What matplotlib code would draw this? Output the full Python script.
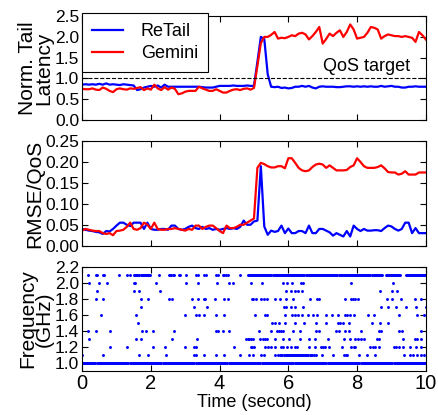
import numpy as np
import matplotlib
matplotlib.use('Agg')
import matplotlib.pyplot as plt

plt.rcParams['font.family'] = ['Liberation Sans', 'DejaVu Sans']
plt.rcParams['font.size'] = 12

time = np.arange(0, 10.001, 0.1)

# normalized tail latency
lat_retail = [0.85, 0.86, 0.85, 0.86, 0.85, 0.87, 0.85, 0.88, 0.85, 0.86,
              0.85, 0.84, 0.86, 0.85, 0.84, 0.83, 0.72, 0.74, 0.78, 0.80,
              0.82, 0.80, 0.83, 0.78, 0.85, 0.80, 0.80, 0.80, 0.80, 0.80,
              0.80, 0.80, 0.80, 0.80, 0.80, 0.79, 0.78, 0.78, 0.78, 0.80,
              0.82, 0.82, 0.82, 0.82, 0.83, 0.82, 0.82, 0.82, 0.83, 0.82,
              0.82, 1.40, 2.00, 1.95, 1.10, 0.80, 0.79, 0.80, 0.77, 0.78,
              0.76, 0.77, 0.80, 0.80, 0.82, 0.80, 0.82, 0.78, 0.76, 0.80,
              0.81, 0.80, 0.80, 0.80, 0.79, 0.79, 0.80, 0.81, 0.81, 0.80,
              0.81, 0.80, 0.81, 0.80, 0.81, 0.80, 0.80, 0.82, 0.80, 0.81,
              0.82, 0.80, 0.80, 0.78, 0.78, 0.80, 0.80, 0.81, 0.80, 0.80,
              0.80]
lat_gemini = [0.75, 0.74, 0.74, 0.76, 0.73, 0.72, 0.78, 0.75, 0.70, 0.67,
              0.74, 0.76, 0.74, 0.73, 0.76, 0.75, 0.77, 0.79, 0.72, 0.76,
              0.73, 0.85, 0.76, 0.72, 0.79, 0.73, 0.78, 0.75, 0.62, 0.64,
              0.68, 0.70, 0.70, 0.70, 0.80, 0.76, 0.73, 0.70, 0.70, 0.74,
              0.70, 0.66, 0.66, 0.70, 0.73, 0.74, 0.72, 0.75, 0.76, 0.73,
              0.77, 1.30, 1.85, 2.00, 2.00, 2.05, 2.12, 1.96, 1.98, 1.97,
              2.00, 2.04, 2.02, 2.08, 2.10, 2.06, 1.94, 2.02, 2.12, 2.24,
              1.84, 1.95, 2.08, 2.02, 2.10, 2.16, 2.00, 2.12, 2.30, 2.18,
              1.96, 1.98, 2.00, 2.10, 2.24, 2.22, 2.18, 1.96, 2.02, 2.06,
              2.04, 2.02, 2.02, 2.00, 2.02, 2.00, 1.98, 1.88, 2.12, 2.04,
              1.94]

# RMSE / QoS
rmse_retail = [.040, .038, .036, .035, .033, .032, .028, .035, .034, .040,
               .048, .055, .055, .050, .047, .055, .055, .055, .040, .055,
               .040, .038, .038, .040, .040, .038, .048, .048, .040, .038,
               .040, .045, .048, .042, .040, .045, .040, .042, .038, .040,
               .038, .040, .042, .040, .042, .040, .045, .060, .050, .050,
               .058, .060, .190, .046, .026, .036, .033, .035, .048, .030,
               .041, .030, .030, .035, .035, .030, .048, .030, .030, .040,
               .040, .036, .032, .024, .030, .026, .022, .035, .022, .048,
               .040, .035, .040, .036, .036, .037, .037, .035, .042, .048,
               .046, .040, .036, .040, .055, .055, .030, .042, .030, .030,
               .030]
rmse_gemini = [.036, .040, .038, .036, .035, .035, .030, .028, .030, .025,
               .035, .036, .038, .045, .055, .040, .038, .042, .055, .050,
               .040, .055, .040, .038, .038, .040, .040, .042, .040, .038,
               .036, .040, .038, .048, .048, .040, .045, .048, .048, .042,
               .035, .030, .048, .042, .042, .045, .050, .050, .055, .060,
               .065, .186, .198, .195, .190, .187, .187, .190, .190, .185,
               .209, .209, .198, .186, .180, .178, .180, .188, .194, .196,
               .194, .186, .192, .186, .180, .180, .180, .181, .188, .192,
               .209, .200, .190, .186, .186, .186, .188, .192, .185, .176,
               .175, .175, .170, .172, .178, .170, .170, .170, .175, .175,
               .175]

# core frequency samples (GHz): sparse samples per level + dense runs
freq_levels = [2.1, 2.0, 1.9, 1.8, 1.7, 1.6, 1.5, 1.4, 1.3, 1.2, 1.1]
freq_times = [
    [0.18, 0.41, 0.43, 0.62, 0.65, 1.06, 1.30, 1.40, 2.25, 2.52, 2.56, 2.60, 2.64, 2.68, 2.81, 2.86,
     3.03, 3.31, 3.36, 3.56, 3.61, 3.90, 3.95, 4.09, 4.14, 4.19, 4.24, 4.58],
    [0.20, 0.50, 0.72, 1.50, 1.55, 2.16, 3.03, 3.36, 3.93, 4.27, 4.38, 4.90, 5.23, 5.84, 5.97,
     6.10, 6.36, 6.42, 7.83, 9.05],
    [0.43, 1.52, 1.67, 2.27, 5.94, 6.08, 6.18, 6.28, 6.39, 8.68, 9.02, 9.16],
    [0.41, 0.62, 1.72, 1.93, 2.52, 2.61, 3.20, 3.38, 3.54, 3.58, 3.88, 4.14, 4.24, 4.94, 4.98,
     5.06, 5.21, 5.29, 5.38, 5.60, 5.77, 5.94, 6.15, 6.64, 6.83, 6.88, 7.64, 7.83, 7.88, 7.93,
     8.03, 8.87, 9.02, 9.29, 9.68, 9.85],
    [1.72, 3.27, 3.63, 5.87, 5.94, 6.08, 6.18, 6.42, 8.71, 8.90, 9.14, 9.41, 9.70, 10.0],
    [0.55, 1.57, 3.00, 3.30, 3.41, 3.56, 3.90, 4.14, 5.04, 5.33, 5.38, 5.91, 6.11, 6.20, 6.28,
     6.39, 6.57, 6.73, 6.83, 7.09, 7.27, 7.44, 7.64, 7.72, 7.80, 7.90, 8.32, 8.48, 9.21, 9.75, 9.94],
    [1.62, 5.53, 5.60, 5.74, 5.89, 6.20, 6.47, 6.80, 7.09, 7.44, 7.50, 7.60, 7.77, 8.44, 8.68, 8.90],
    [0.18, 0.41, 0.82, 1.74, 1.87, 2.06, 2.68, 3.90, 3.95, 4.09, 4.27, 5.16, 5.50, 5.68, 5.72,
     5.78, 5.84, 6.13, 6.33, 6.80, 6.90, 7.39, 7.48, 7.64, 7.77, 8.10, 8.65, 8.71, 9.23, 9.31, 9.87],
    [0.20, 1.57, 1.72, 2.61, 3.34, 4.77, 4.82, 4.87, 4.92, 4.98, 5.19, 5.25, 5.32, 5.38, 5.60,
     5.84, 6.01, 6.33, 6.59, 6.78, 7.15, 7.61, 7.80, 7.93, 8.03, 8.10, 8.19, 8.58, 8.63, 9.33,
     9.68, 9.74, 9.85],
    [0.82, 1.30, 2.05, 2.42, 3.00, 3.27, 3.31, 4.43, 4.90, 4.95, 5.00, 5.33, 5.40, 5.50, 5.60,
     5.79, 5.85, 5.95, 6.08, 6.20, 6.26, 6.59, 6.78, 6.96, 7.02, 7.07, 7.19, 7.56, 7.83, 7.90,
     7.95, 8.39, 8.46, 8.53, 8.63, 9.07, 9.14, 9.22, 9.34, 9.55, 9.70, 9.85],
    [0.00, 0.62, 1.67, 1.93, 2.45, 3.25, 3.31, 3.56, 3.90, 4.14, 4.58, 4.87, 4.97, 5.21, 5.30,
     5.60, 5.70, 6.63, 6.67, 6.70, 6.76, 6.80, 6.98, 7.29, 7.61, 7.67, 7.71, 8.05, 8.29, 8.51,
     9.36, 9.55, 9.64, 9.74, 9.85, 9.94],
]
dense_runs = [(1.0, 0.0, 10.0), (2.1, 1.52, 1.98), (2.1, 4.82, 8.73), (2.1, 8.84, 9.26),
              (2.1, 9.41, 10.0), (1.1, 5.77, 6.60)]

fig = plt.figure(figsize=(4.39, 4.15), dpi=100)
left, width = 0.187, 0.783
ax1 = fig.add_axes([left, 0.711, width, 0.250])
ax2 = fig.add_axes([left, 0.408, width, 0.252])
ax3 = fig.add_axes([left, 0.106, width, 0.251])

for ax in (ax1, ax2, ax3):
    ax.tick_params(direction='in', top=True, right=True, length=4, labelsize=12.5, pad=2)
    ax.set_xlim(0, 10)
    ax.set_xticks([0, 2, 4, 6, 8, 10])

ax1.plot(time, lat_retail, color='b', lw=1.6, label='ReTail')
ax1.plot(time, lat_gemini, color='r', lw=1.6, label='Gemini')
ax1.axhline(1.0, color='k', ls='--', lw=0.8)
ax1.text(7.0, 1.17, 'QoS target', fontsize=13)
ax1.set_ylim(0, 2.5)
ax1.set_yticks(np.arange(0, 2.51, 0.5))
ax1.set_yticklabels(['%.1f' % v for v in np.arange(0, 2.51, 0.5)])
ax1.set_xticklabels([])
ax1.set_ylabel('Norm. Tail\nLatency', fontsize=15, labelpad=1, linespacing=0.85)
leg = ax1.legend(loc='upper left', bbox_to_anchor=(0.0, 1.03), fontsize=13, handlelength=1.7,
                 handletextpad=1.0, borderpad=0.55, labelspacing=0.3,
                 fancybox=False, edgecolor='k', framealpha=1, borderaxespad=0)
leg.get_frame().set_linewidth(0.8)

ax2.plot(time, rmse_retail, color='b', lw=1.6)
ax2.plot(time, rmse_gemini, color='r', lw=1.6)
ax2.set_ylim(0, 0.25)
ax2.set_yticks(np.arange(0, 0.251, 0.05))
ax2.set_yticklabels(['%.2f' % v for v in np.arange(0, 0.251, 0.05)])
ax2.set_xticklabels([])
ax2.set_ylabel('RMSE/QoS', fontsize=15, labelpad=1)

for level, ts in zip(freq_levels, freq_times):
    ax3.plot(ts, [level] * len(ts), ls='none', marker='o', ms=1.1, color='b')
for level, t0, t1 in dense_runs:
    ts = np.arange(t0, t1 + 0.001, 0.03)
    ax3.plot(ts, [level] * len(ts), ls='none', marker='o', ms=1.1, color='b')
ax3.set_ylim(0.9, 2.2)
ax3.set_yticks(np.arange(1.0, 2.21, 0.2))
ax3.set_yticklabels(['%.1f' % v for v in np.arange(1.0, 2.21, 0.2)])
ax3.set_xticklabels(['0', '2', '4', '6', '8', '10'], fontsize=14.5)
ax3.set_xlabel('Time (second)', fontsize=13, labelpad=1)
ax3.set_ylabel('Frequency\n(GHz)', fontsize=15, labelpad=1, linespacing=0.85)

fig.savefig('out.png', dpi=100)
